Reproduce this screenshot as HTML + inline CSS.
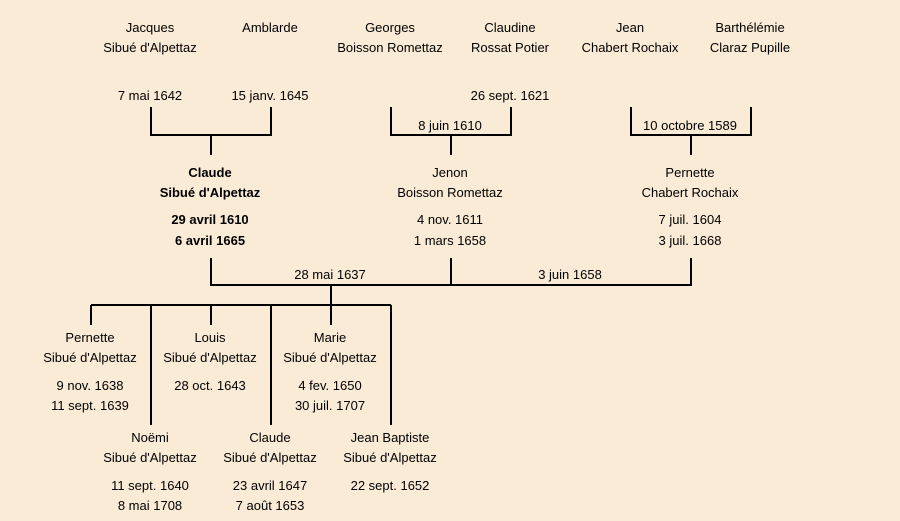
<!DOCTYPE html>
<html><head><meta charset="utf-8"><style>
html,body{margin:0;padding:0;background:#faebd7;}
svg{display:block}
text{font-family:"Liberation Sans","DejaVu Sans",sans-serif;font-size:13px;fill:#000;text-anchor:middle}
.b{font-weight:bold}
</style></head><body>
<svg width="900" height="521" viewBox="0 0 900 521" xmlns="http://www.w3.org/2000/svg">
<rect width="900" height="521" fill="#faebd7"/>
<g stroke="#000" stroke-width="2" fill="none">
<path d="M151,107V135H271V107M211,135V155"/>
<path d="M391,107V135H511V107M451,135V155"/>
<path d="M631,107V135H751V107M691,135V155"/>
<path d="M211,258V285H691V258M451,258V285M331,285V305"/>
<path d="M91,305H391M91,305V325M151,305V425M211,305V325M271,305V425M331,305V325M391,305V425"/>
</g>
<text x="150" y="32">Jacques</text><text x="150" y="52">Sibué d'Alpettaz</text>
<text x="270" y="32">Amblarde</text>
<text x="390" y="32">Georges</text><text x="390" y="52">Boisson Romettaz</text>
<text x="510" y="32">Claudine</text><text x="510" y="52">Rossat Potier</text>
<text x="630" y="32">Jean</text><text x="630" y="52">Chabert Rochaix</text>
<text x="750" y="32">Barthélémie</text><text x="750" y="52">Claraz Pupille</text>
<text x="150" y="100">7 mai 1642</text>
<text x="270" y="100">15 janv. 1645</text>
<text x="510" y="100">26 sept. 1621</text>
<text x="450" y="130">8 juin 1610</text>
<text x="690" y="130">10 octobre 1589</text>
<text class="b" x="210" y="177">Claude</text><text class="b" x="210" y="197">Sibué d'Alpettaz</text>
<text class="b" x="210" y="224">29 avril 1610</text><text class="b" x="210" y="245">6 avril 1665</text>
<text x="450" y="177">Jenon</text><text x="450" y="197">Boisson Romettaz</text>
<text x="450" y="224">4 nov. 1611</text><text x="450" y="245">1 mars 1658</text>
<text x="690" y="177">Pernette</text><text x="690" y="197">Chabert Rochaix</text>
<text x="690" y="224">7 juil. 1604</text><text x="690" y="245">3 juil. 1668</text>
<text x="330" y="279">28 mai 1637</text>
<text x="570" y="279">3 juin 1658</text>
<text x="90" y="342">Pernette</text><text x="90" y="362">Sibué d'Alpettaz</text>
<text x="90" y="390">9 nov. 1638</text><text x="90" y="410">11 sept. 1639</text>
<text x="210" y="342">Louis</text><text x="210" y="362">Sibué d'Alpettaz</text>
<text x="210" y="390">28 oct. 1643</text>
<text x="330" y="342">Marie</text><text x="330" y="362">Sibué d'Alpettaz</text>
<text x="330" y="390">4 fev. 1650</text><text x="330" y="410">30 juil. 1707</text>
<text x="150" y="442">Noëmi</text><text x="150" y="462">Sibué d'Alpettaz</text>
<text x="150" y="490">11 sept. 1640</text><text x="150" y="510">8 mai 1708</text>
<text x="270" y="442">Claude</text><text x="270" y="462">Sibué d'Alpettaz</text>
<text x="270" y="490">23 avril 1647</text><text x="270" y="510">7 août 1653</text>
<text x="390" y="442">Jean Baptiste</text><text x="390" y="462">Sibué d'Alpettaz</text>
<text x="390" y="490">22 sept. 1652</text>
</svg>
</body></html>
